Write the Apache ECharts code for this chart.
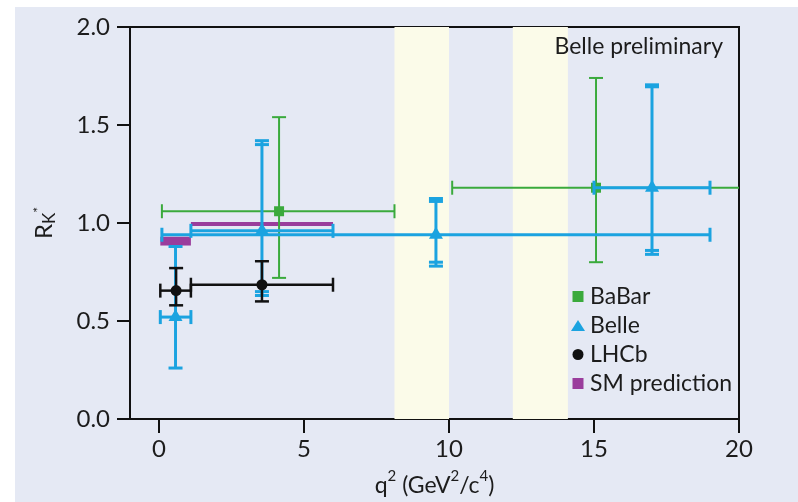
<!DOCTYPE html>
<html>
<head>
<meta charset="utf-8">
<script src="https://cdn.jsdelivr.net/npm/echarts@6/dist/echarts.min.js"></script>
<style>
  html, body { margin: 0; padding: 0; background: #fff; }
  #chart-container { width: 798px; height: 502px; }
</style>
</head>
<body>
<div id="chart-container"></div>
<script>
// x axis ticks
var xTicks = [0, 5, 10, 15, 20];
// shaded q2 regions (vetoed charmonium bands)
var bandRanges = [[8.12, 10.0], [12.2, 14.1]];

// BaBar
var babarX = [4.14, 15.07];
var babarY = [1.06, 1.18];
var babarXLo = [0.1, 10.11];
var babarXHi = [8.12, 21];
var babarYLo = [0.72, 0.8];
var babarYHi = [1.54, 1.74];

// Belle
var belleX = [0.57, 3.55, 9.55, 17.0];
var belleY = [0.52, 0.96, 0.94, 1.18];
var belleXLo = [0.045, 1.1, 0.1, 15.0];
var belleXHi = [1.1, 6.0, 19.0, 19.0];
var belleYLo = [0.26, 0.63, 0.78, 0.84];
var belleYHi = [0.88, 1.42, 1.125, 1.705];
var belleYLoStat = [null, 0.65, 0.8, 0.86];
var belleYHiStat = [null, 1.4, 1.11, 1.695];

// LHCb
var lhcbX = [0.59, 3.55];
var lhcbY = [0.655, 0.685];
var lhcbXLo = [0.045, 1.1];
var lhcbXHi = [1.1, 6.0];
var lhcbYLo = [0.58, 0.6];
var lhcbYHi = [0.77, 0.805];

// SM prediction boxes
var smXLo = [0.045, 1.1];
var smXHi = [1.1, 6.0];
var smYLo = [0.885, 0.985];
var smYHi = [0.93, 1.005];

var FONT = "Lato, 'Liberation Sans', sans-serif";
var TXT = "#1c1c1c";
var C_GREEN = "#3aaa3c";
var C_BLUE = "#1ba3e0";
var C_BLACK = "#111111";
var C_PURPLE = "#9a3d9c";

var dom = document.getElementById("chart-container");
var myChart = echarts.init(dom, null, { renderer: "canvas" });

function pack(xs, ys, xlo, xhi, ylo, yhi) {
  return xs.map(function (x, i) {
    return [x, ys[i], xlo[i], xhi[i], ylo[i], yhi[i]];
  });
}

function makeErrorBar(color, lw, marker, loStat, hiStat) {
  return function (params, api) {
    var i = params.dataIndex;
    var cs = params.coordSys;
    var right = cs.x + cs.width;
    var x = api.value(0), y = api.value(1);
    var c = api.coord([x, y]);
    var lo = api.coord([api.value(2), y]);
    var hi = api.coord([api.value(3), y]);
    var top = api.coord([x, api.value(5)]);
    var bot = api.coord([x, api.value(4)]);
    var cap = 7;
    var style = { stroke: color, lineWidth: lw };
    var hiX = Math.min(hi[0], right);
    var kids = [
      { type: "line", shape: { x1: lo[0], y1: c[1], x2: hiX, y2: c[1] }, style: style },
      { type: "line", shape: { x1: lo[0], y1: c[1] - cap, x2: lo[0], y2: c[1] + cap }, style: style },
      { type: "line", shape: { x1: c[0], y1: top[1], x2: c[0], y2: bot[1] }, style: style },
      { type: "line", shape: { x1: c[0] - cap, y1: top[1], x2: c[0] + cap, y2: top[1] }, style: style },
      { type: "line", shape: { x1: c[0] - cap, y1: bot[1], x2: c[0] + cap, y2: bot[1] }, style: style }
    ];
    if (hi[0] <= right + 0.5) {
      kids.push({ type: "line", shape: { x1: hi[0], y1: c[1] - cap, x2: hi[0], y2: c[1] + cap }, style: style });
    }
    if (loStat && loStat[i] != null) {
      var s1 = api.coord([x, loStat[i]]);
      var s2 = api.coord([x, hiStat[i]]);
      kids.push({ type: "line", shape: { x1: c[0] - cap, y1: s1[1], x2: c[0] + cap, y2: s1[1] }, style: style });
      kids.push({ type: "line", shape: { x1: c[0] - cap, y1: s2[1], x2: c[0] + cap, y2: s2[1] }, style: style });
    }
    if (marker === "square") {
      kids.push({ type: "rect", shape: { x: c[0] - 5, y: c[1] - 5, width: 10, height: 10 }, style: { fill: color } });
    } else if (marker === "triangle") {
      kids.push({ type: "polygon", shape: { points: [[c[0], c[1] - 8], [c[0] - 7, c[1] + 4], [c[0] + 7, c[1] + 4]] }, style: { fill: color } });
    } else {
      kids.push({ type: "circle", shape: { cx: c[0], cy: c[1], r: 5.5 }, style: { fill: color } });
    }
    return { type: "group", children: kids };
  };
}

var squareIcon = "path://M0,0H10V10H0Z";

var option = {
  backgroundColor: "#e5e9f4",
  animation: false,
  textStyle: { fontFamily: FONT },
  graphic: [
    { type: "rect", left: 0, top: 0, z: 100, shape: { width: 798, height: 7 }, style: { fill: "#fff" }, silent: true },
    { type: "rect", left: 0, top: 0, z: 100, shape: { width: 15, height: 502 }, style: { fill: "#fff" }, silent: true },
    {
      type: "text", right: 75, top: 35, z: 100,
      style: { text: "Belle preliminary", fontSize: 23, fontFamily: FONT, fill: TXT }
    }
  ],
  grid: {
    left: 130, right: 59, top: 27, bottom: 81,
    show: true, borderColor: "#111", borderWidth: 2, backgroundColor: "transparent"
  },
  legend: {
    orient: "vertical",
    left: 571, top: 285,
    padding: 0,
    itemGap: 6,
    itemWidth: 14, itemHeight: 11,
    symbolKeepAspect: true,
    textStyle: { fontSize: 23, color: TXT, fontFamily: FONT },
    data: [
      { name: "BaBar", icon: squareIcon, itemStyle: { color: C_GREEN } },
      { name: "Belle", icon: "triangle", itemStyle: { color: C_BLUE } },
      { name: "LHCb", icon: "circle", itemStyle: { color: C_BLACK } },
      { name: "SM prediction", icon: squareIcon, itemStyle: { color: C_PURPLE } }
    ]
  },
  xAxis: {
    type: "value", min: -1, max: 20,
    name: "{n|q}{s|2}{n| (GeV}{s|2}{n|/c}{s|4}{n|)}",
    nameLocation: "middle", nameGap: 50,
    nameTextStyle: {
      fontFamily: FONT,
      rich: {
        n: { fontSize: 23, color: TXT, fontFamily: FONT, lineHeight: 28, verticalAlign: "bottom" },
        s: { fontSize: 15, color: TXT, fontFamily: FONT, lineHeight: 28, verticalAlign: "top" }
      }
    },
    axisLine: { onZero: false, lineStyle: { color: "#111", width: 2 } },
    axisTick: { length: 14, customValues: xTicks, lineStyle: { color: "#111", width: 2 } },
    axisLabel: { customValues: xTicks, fontSize: 24, color: TXT, margin: 18 },
    splitLine: { show: false }
  },
  yAxis: {
    type: "value", min: 0, max: 2, interval: 0.5,
    name: "{r|R}{k|K}{s|*}",
    nameLocation: "middle", nameGap: 72,
    nameTextStyle: {
      fontFamily: FONT,
      rich: {
        r: { fontSize: 24, color: TXT, fontFamily: FONT },
        k: { fontSize: 17, color: TXT, fontFamily: FONT, verticalAlign: "bottom", padding: [10, 0, 0, 0] },
        s: { fontSize: 14, color: TXT, fontFamily: FONT, verticalAlign: "top" }
      }
    },
    axisLine: { onZero: false, lineStyle: { color: "#111", width: 2 } },
    axisTick: { length: 13, lineStyle: { color: "#111", width: 2 } },
    axisLabel: { fontSize: 24, color: TXT, margin: 20, formatter: function (v) { return v.toFixed(1); } },
    splitLine: { show: false }
  },
  series: [
    {
      name: "bands", type: "custom", silent: true,
      data: [],
      renderItem: function () { return null; },
      markArea: {
        silent: true,
        itemStyle: { color: "#fbfbe9" },
        data: bandRanges.map(function (b) { return [{ xAxis: b[0], yAxis: 0 }, { xAxis: b[1], yAxis: 2 }]; })
      }
    },
    {
      name: "SM prediction", type: "custom", itemStyle: { color: C_PURPLE },
      data: smXLo.map(function (x, i) { return [x, smYLo[i], smXHi[i], smYHi[i]]; }),
      renderItem: function (params, api) {
        var p1 = api.coord([api.value(0), api.value(3)]);
        var p2 = api.coord([api.value(2), api.value(1)]);
        return { type: "rect", shape: { x: p1[0], y: p1[1], width: p2[0] - p1[0], height: p2[1] - p1[1] }, style: { fill: C_PURPLE } };
      }
    },
    {
      name: "BaBar", type: "custom", itemStyle: { color: C_GREEN },
      data: pack(babarX, babarY, babarXLo, babarXHi, babarYLo, babarYHi),
      renderItem: makeErrorBar(C_GREEN, 2, "square")
    },
    {
      name: "Belle", type: "custom", itemStyle: { color: C_BLUE },
      data: pack(belleX, belleY, belleXLo, belleXHi, belleYLo, belleYHi),
      renderItem: makeErrorBar(C_BLUE, 3, "triangle", belleYLoStat, belleYHiStat)
    },
    {
      name: "LHCb", type: "custom", itemStyle: { color: C_BLACK },
      data: pack(lhcbX, lhcbY, lhcbXLo, lhcbXHi, lhcbYLo, lhcbYHi),
      renderItem: makeErrorBar(C_BLACK, 2.5, "circle")
    }
  ]
};

if (option && typeof option === "object") {
  myChart.setOption(option);
}

window.addEventListener("resize", myChart.resize);
</script>
</body>
</html>
